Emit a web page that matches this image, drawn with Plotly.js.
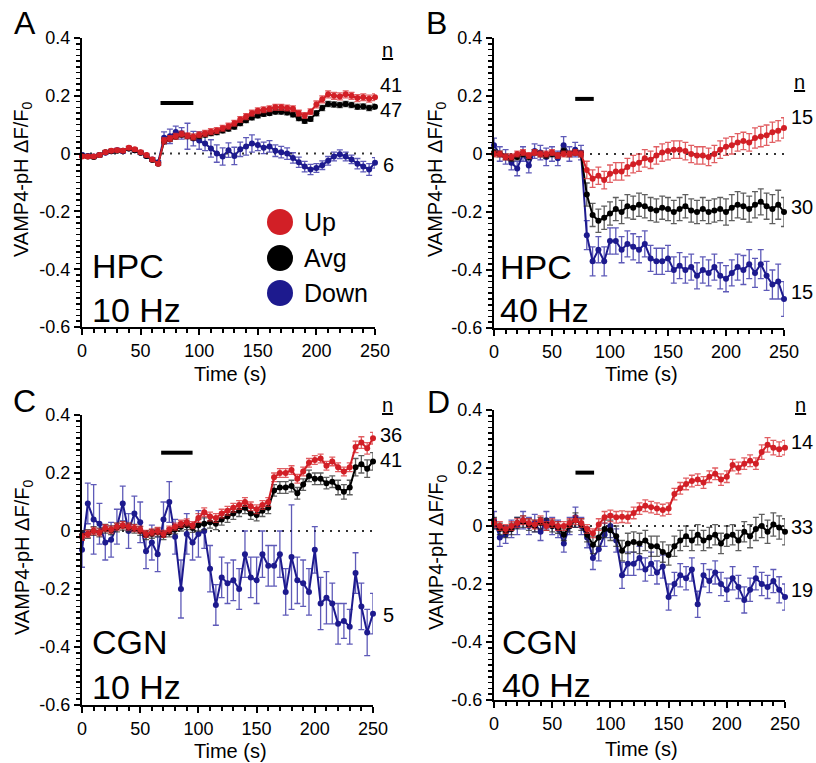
<!DOCTYPE html>
<html><head><meta charset="utf-8">
<script src="https://cdn.plot.ly/plotly-3.0.1.min.js"></script>
<style>html,body{margin:0;padding:0;background:#fff}#chart{width:816px;height:763px}</style>
</head><body><div id="chart"></div>
<script>
// ---------- DATA ----------
const time = [0,5,10,15,20,25,30,35,40,45,50,55,60,65,70,75,80,85,90,95,100,105,110,115,120,125,130,135,140,145,150,155,160,165,170,175,180,185,190,195,200,205,210,215,220,225,230,235,240,245,250];

// A: HPC 10 Hz
const hpc10Up = [-0.010,-0.010,-0.010,-0.005,0.005,0.010,0.012,0.010,0.020,0.015,
  0.005,-0.005,-0.020,-0.035,0.045,0.052,0.060,0.068,0.062,0.058,
  0.065,0.070,0.076,0.080,0.088,0.095,0.105,0.118,0.128,0.140,
  0.148,0.152,0.155,0.160,0.160,0.158,0.155,0.140,0.132,0.145,
  0.170,0.188,0.205,0.200,0.198,0.205,0.200,0.192,0.195,0.190,0.195];
const hpc10UpErr = [.006,.006,.006,.006,.006,.006,.006,.006,.006,.006,
  .006,.006,.006,.006,.010,.010,.010,.010,.010,.010,
  .010,.010,.010,.010,.010,.010,.010,.010,.010,.010,
  .010,.010,.010,.010,.010,.010,.010,.010,.010,.010,
  .012,.012,.012,.012,.012,.012,.012,.012,.012,.012,.012];
const hpc10Avg = [-0.008,-0.010,-0.012,-0.005,0.005,0.008,0.010,0.010,0.018,0.012,
  0.003,-0.008,-0.022,-0.035,0.042,0.050,0.058,0.065,0.060,0.055,
  0.060,0.065,0.070,0.074,0.080,0.086,0.093,0.105,0.115,0.125,
  0.132,0.137,0.140,0.145,0.145,0.142,0.135,0.122,0.113,0.120,
  0.140,0.158,0.172,0.170,0.168,0.172,0.168,0.162,0.163,0.158,0.162];
const hpc10AvgErr = [.005,.005,.005,.005,.005,.005,.005,.005,.005,.005,
  .005,.005,.005,.005,.008,.008,.008,.008,.008,.008,
  .008,.008,.008,.008,.008,.008,.008,.008,.008,.008,
  .008,.008,.008,.008,.008,.008,.008,.008,.008,.008,
  .009,.009,.009,.009,.009,.009,.009,.009,.009,.009,.009];
const hpc10Down = [-0.005,-0.008,-0.010,-0.005,0.003,0.008,0.012,0.008,0.018,0.012,
  0.003,-0.008,-0.020,-0.030,0.055,0.060,0.075,0.070,0.060,0.052,
  0.045,0.035,0.018,0.000,-0.010,0.012,-0.008,0.015,0.025,0.035,
  0.030,0.020,0.025,0.010,0.005,0.000,-0.015,-0.030,-0.045,-0.055,
  -0.050,-0.040,-0.025,-0.010,-0.002,-0.010,-0.020,-0.035,-0.045,-0.055,-0.032];
const hpc10DownErr = [.006,.006,.006,.006,.006,.006,.006,.006,.006,.006,
  .006,.006,.006,.006,.020,.025,.020,.020,.045,.025,
  .030,.025,.030,.030,.030,.025,.030,.025,.030,.030,
  .020,.020,.020,.020,.020,.020,.018,.018,.018,.018,
  .015,.015,.015,.015,.015,.015,.015,.018,.018,.020,.018];

// B: HPC 40 Hz
const hpc40Up = [0.000,0.000,-0.010,-0.010,0.000,0.005,-0.005,0.005,0.000,0.000,
  0.005,-0.005,0.000,0.000,0.005,0.000,-0.055,-0.085,-0.075,-0.090,
  -0.068,-0.060,-0.060,-0.045,-0.035,-0.030,-0.015,-0.020,-0.005,0.005,
  0.010,0.015,0.015,0.010,0.000,-0.005,-0.005,-0.010,0.000,0.015,
  0.025,0.030,0.040,0.045,0.040,0.055,0.060,0.065,0.075,0.080,0.090];
const hpc40UpErr = [.010,.010,.010,.010,.010,.010,.010,.010,.010,.010,
  .010,.010,.010,.010,.010,.010,.030,.030,.030,.030,
  .030,.030,.030,.030,.030,.030,.030,.030,.030,.030,
  .030,.030,.030,.030,.030,.030,.030,.030,.030,.030,
  .030,.030,.030,.030,.030,.035,.035,.035,.035,.035,.035];
const hpc40Avg = [0.005,0.000,-0.010,-0.015,-0.010,0.000,-0.010,0.005,0.000,-0.005,
  0.000,-0.005,0.010,0.000,0.005,0.000,-0.140,-0.210,-0.230,-0.220,
  -0.205,-0.190,-0.200,-0.180,-0.185,-0.175,-0.180,-0.190,-0.195,-0.185,
  -0.190,-0.200,-0.190,-0.180,-0.195,-0.200,-0.190,-0.200,-0.195,-0.190,
  -0.200,-0.185,-0.175,-0.180,-0.190,-0.175,-0.165,-0.180,-0.190,-0.175,-0.200];
const hpc40AvgErr = [.010,.010,.010,.010,.010,.010,.010,.010,.010,.010,
  .010,.010,.010,.010,.010,.010,.040,.040,.040,.040,
  .040,.040,.040,.040,.040,.040,.040,.040,.040,.040,
  .040,.040,.040,.040,.040,.040,.040,.040,.040,.040,
  .045,.045,.045,.045,.045,.045,.045,.045,.050,.050,.050];
const hpc40Down = [0.030,0.000,-0.010,-0.030,-0.050,0.000,-0.040,0.010,0.005,-0.010,
  0.000,-0.015,0.030,0.000,0.015,0.005,-0.280,-0.370,-0.330,-0.370,
  -0.300,-0.300,-0.330,-0.310,-0.320,-0.330,-0.310,-0.360,-0.370,-0.370,
  -0.360,-0.400,-0.385,-0.400,-0.390,-0.420,-0.400,-0.410,-0.390,-0.420,
  -0.430,-0.410,-0.390,-0.400,-0.380,-0.410,-0.380,-0.420,-0.450,-0.440,-0.500];
const hpc40DownErr = [.025,.025,.025,.025,.025,.025,.025,.025,.025,.030,
  .025,.025,.030,.025,.025,.025,.050,.050,.045,.050,
  .045,.045,.045,.045,.045,.045,.045,.045,.045,.045,
  .045,.045,.045,.045,.045,.045,.045,.045,.045,.045,
  .045,.045,.045,.050,.050,.050,.050,.050,.050,.060,.060];

// C: CGN 10 Hz
const cgn10Up = [-0.020,-0.010,0.000,-0.005,0.010,0.005,0.015,0.020,0.015,0.010,
  0.005,-0.010,-0.005,0.000,-0.010,0.005,0.015,0.025,0.030,0.020,
  0.045,0.065,0.050,0.045,0.060,0.070,0.080,0.090,0.100,0.085,
  0.075,0.090,0.100,0.185,0.200,0.200,0.210,0.180,0.205,0.235,
  0.245,0.250,0.225,0.240,0.220,0.205,0.220,0.290,0.305,0.285,0.320];
const cgn10UpErr = [.012,.012,.012,.012,.012,.012,.012,.012,.012,.012,
  .012,.012,.012,.012,.012,.012,.012,.012,.012,.012,
  .015,.015,.015,.015,.015,.015,.015,.015,.015,.015,
  .015,.015,.015,.015,.015,.015,.015,.015,.015,.015,
  .015,.015,.015,.015,.015,.015,.015,.020,.020,.020,.020];
const cgn10Avg = [-0.015,-0.010,0.000,-0.005,0.008,0.003,0.012,0.018,0.012,0.008,
  0.000,-0.015,-0.010,-0.005,-0.015,-0.005,0.005,0.015,0.020,0.010,
  0.020,0.025,0.030,0.025,0.040,0.050,0.060,0.070,0.080,0.060,
  0.055,0.070,0.080,0.140,0.150,0.150,0.155,0.130,0.160,0.190,
  0.180,0.180,0.165,0.170,0.150,0.135,0.150,0.220,0.230,0.215,0.240];
const cgn10AvgErr = [.015,.015,.015,.015,.015,.015,.015,.015,.015,.015,
  .015,.015,.015,.015,.015,.015,.015,.015,.015,.015,
  .020,.020,.020,.020,.020,.020,.020,.020,.020,.020,
  .020,.020,.020,.020,.020,.020,.020,.020,.020,.020,
  .020,.020,.020,.020,.025,.025,.025,.030,.030,.030,.030];
const cgn10Down = [-0.065,0.095,0.040,0.025,-0.040,-0.030,0.015,0.095,0.000,0.060,
  0.030,-0.070,-0.040,-0.080,0.040,0.100,-0.020,-0.200,-0.010,-0.040,
  -0.010,0.000,-0.130,-0.255,-0.160,-0.180,-0.170,-0.200,-0.080,-0.160,
  -0.170,-0.080,-0.120,-0.120,-0.080,-0.210,-0.090,-0.170,-0.180,-0.210,
  -0.065,-0.250,-0.230,-0.250,-0.320,-0.310,-0.330,-0.145,-0.260,-0.350,-0.285];
const cgn10DownErr = [.060,.070,.120,.070,.060,.060,.060,.060,.060,.060,
  .070,.060,.060,.060,.060,.070,.060,.100,.070,.060,
  .080,.060,.080,.070,.070,.070,.070,.070,.080,.070,
  .080,.080,.070,.070,.080,.080,.180,.080,.080,.080,
  .080,.090,.090,.070,.070,.060,.060,.070,.080,.080,.070];

// D: CGN 40 Hz
const cgn40Up = [0.010,0.000,-0.010,0.000,0.010,0.020,0.010,0.005,0.020,0.000,
  0.010,0.000,0.000,0.010,0.020,0.010,-0.010,-0.025,0.005,0.030,
  0.035,0.030,0.032,0.030,0.045,0.060,0.070,0.065,0.060,0.055,
  0.060,0.110,0.130,0.145,0.155,0.160,0.150,0.170,0.180,0.160,
  0.170,0.210,0.200,0.215,0.225,0.215,0.255,0.280,0.270,0.265,0.270];
const cgn40UpErr = [.015,.015,.015,.015,.015,.015,.015,.015,.015,.015,
  .015,.015,.015,.015,.015,.015,.015,.015,.020,.020,
  .020,.020,.020,.020,.020,.020,.020,.020,.020,.020,
  .020,.020,.020,.020,.020,.020,.020,.020,.020,.020,
  .020,.020,.020,.020,.020,.020,.025,.025,.025,.025,.025];
const cgn40Avg = [0.010,-0.010,-0.020,-0.010,0.010,0.015,0.005,0.000,0.010,0.005,
  0.000,-0.005,-0.030,0.000,0.020,0.005,-0.030,-0.065,-0.040,-0.010,
  -0.015,-0.035,-0.085,-0.060,-0.055,-0.060,-0.050,-0.070,-0.070,-0.090,
  -0.100,-0.070,-0.050,-0.035,-0.050,-0.030,-0.050,-0.040,-0.030,-0.060,
  -0.035,-0.030,-0.050,-0.020,-0.035,-0.010,0.000,-0.020,0.005,-0.005,-0.020];
const cgn40AvgErr = [.020,.020,.020,.020,.020,.020,.020,.020,.020,.020,
  .020,.020,.020,.020,.025,.020,.025,.030,.030,.030,
  .035,.035,.035,.035,.035,.035,.035,.035,.035,.035,
  .035,.035,.035,.035,.035,.035,.035,.035,.035,.035,
  .035,.035,.035,.035,.040,.040,.040,.040,.040,.040,.045];
const cgn40Down = [0.020,-0.040,-0.030,-0.010,0.000,0.020,0.000,0.010,-0.020,0.020,
  0.000,-0.010,-0.060,0.000,0.030,0.000,-0.040,-0.110,-0.080,-0.030,
  0.000,-0.050,-0.170,-0.130,-0.130,-0.110,-0.150,-0.130,-0.160,-0.140,
  -0.245,-0.200,-0.170,-0.180,-0.150,-0.270,-0.170,-0.190,-0.160,-0.200,
  -0.220,-0.180,-0.210,-0.255,-0.220,-0.180,-0.200,-0.210,-0.190,-0.220,-0.245];
const cgn40DownErr = [.030,.030,.030,.030,.030,.030,.030,.030,.030,.030,
  .030,.030,.030,.030,.035,.030,.035,.040,.040,.040,
  .040,.040,.045,.040,.040,.040,.040,.040,.040,.040,
  .045,.040,.040,.040,.040,.045,.040,.040,.040,.040,
  .040,.040,.040,.045,.040,.040,.040,.040,.040,.045,.045];

// stimulus bars [start, end, level] and n values
const stimStart = [67, 70, 68, 70];
const stimEnd   = [95, 86, 95, 86];
const stimLevel = [0.175, 0.19, 0.27, 0.184];
const nUp   = ['41','15','36','14'];
const nAvg  = ['47','30','41','33'];
const nDown = ['6','15','5','19'];
const panelLetters = ['A','B','C','D'];
const cellTypes = ['HPC','HPC','CGN','CGN'];
const freqs = ['10 Hz','40 Hz','10 Hz','40 Hz'];
const legendNames = ['Up','Avg','Down'];
const xTickVals = [0,50,100,150,200,250];
const xTickText = ['0','50','100','150','200','250'];
const yTickVals = [-0.6,-0.4,-0.2,0,0.2,0.4];
const yTickText = ['-0.6','-0.4','-0.2','0','0.2','0.4'];

// ---------- STYLE / LAYOUT ----------
const W = 816, H = 763;
const FONT = 'Liberation Sans, Arial, Helvetica, sans-serif';
const px = x => x / W, py = y => 1 - y / H;
const RED = '#d21f26', BLACK = '#000000', BLUE = '#1d1a8e';
const RED_E = 'rgba(215,40,45,0.75)', BLACK_E = 'rgba(40,40,40,0.75)', BLUE_E = 'rgba(40,35,160,0.75)';

const panels = [
  {xa:'x',  ya:'y',  box:[82,375,38,327],  up:hpc10Up, upE:hpc10UpErr, avg:hpc10Avg, avgE:hpc10AvgErr, dn:hpc10Down, dnE:hpc10DownErr,
   lab:{letter:[25,23], cell:[90,266], freq:[90,310], ytitle:[23,180], xtitle:[230,374], n:[387,50], nU:[378,85], nA:[378,110], nD:[381,165]}},
  {xa:'x2', ya:'y2', box:[494,784,38,328], up:hpc40Up, upE:hpc40UpErr, avg:hpc40Avg, avgE:hpc40AvgErr, dn:hpc40Down, dnE:hpc40DownErr,
   lab:{letter:[436,23], cell:[498,267], freq:[498,310], ytitle:[437,180], xtitle:[641,374], n:[799,82], nU:[789,117], nA:[789,207], nD:[789,292]}},
  {xa:'x3', ya:'y3', box:[82,373,415,705], up:cgn10Up, upE:cgn10UpErr, avg:cgn10Avg, avgE:cgn10AvgErr, dn:cgn10Down, dnE:cgn10DownErr,
   lab:{letter:[24,401], cell:[90,642], freq:[90,687], ytitle:[23,558], xtitle:[230,751], n:[387,405], nU:[378,435], nA:[378,460], nD:[381,615]}},
  {xa:'x4', ya:'y4', box:[494,785,410,700], up:cgn40Up, upE:cgn40UpErr, avg:cgn40Avg, avgE:cgn40AvgErr, dn:cgn40Down, dnE:cgn40DownErr,
   lab:{letter:[438,402], cell:[500,642], freq:[500,685], ytitle:[437,553], xtitle:[641,749], n:[800,405], nU:[789,442], nA:[789,527], nD:[789,590]}}
];

function series(x, y, err, color, ecolor, xa, ya) {
  return {type:'scatter', mode:'lines+markers', x, y, xaxis:xa, yaxis:ya,
    line:{color, width:2}, marker:{color, size:6},
    error_y:{type:'data', array:err, visible:true, color:ecolor, thickness:1.3, width:3},
    cliponaxis:false, showlegend:false, hoverinfo:'skip'};
}
function txt(text, x, y, size, xanchor, extra) {
  return Object.assign({text, x:px(x), y:py(y), xref:'paper', yref:'paper', showarrow:false,
    xanchor:xanchor || 'center', yanchor:'middle', font:{family:FONT, size, color:'#000'}}, extra || {});
}

const traces = [];
const layout = {width:W, height:H, margin:{l:0,r:0,t:0,b:0}, paper_bgcolor:'#fff', plot_bgcolor:'rgba(0,0,0,0)',
  font:{family:FONT, color:'#000'}, showlegend:false, shapes:[], annotations:[]};

panels.forEach((p, i) => {
  traces.push(series(time, p.dn, p.dnE, BLUE, BLUE_E, p.xa, p.ya));
  traces.push(series(time, p.avg, p.avgE, BLACK, BLACK_E, p.xa, p.ya));
  traces.push(series(time, p.up, p.upE, RED, RED_E, p.xa, p.ya));
  const sfx = i === 0 ? '' : String(i + 1);
  const [x0, x1, y0, y1] = p.box;
  layout['xaxis' + sfx] = {domain:[px(x0), px(x1)], anchor:'y' + sfx, range:[0,250], showline:true, linewidth:2, linecolor:'#000',
    ticks:'outside', ticklen:6, tickwidth:2, tickcolor:'#000', tickmode:'array', tickvals:xTickVals, ticktext:xTickText,
    minor:{tickmode:'linear', tick0:0, dtick:10, ticks:'outside', ticklen:4, tickwidth:2, tickcolor:'#000', showgrid:false},
    showgrid:false, zeroline:false, tickfont:{family:FONT, size:18, color:'#000'}, fixedrange:true};
  layout['yaxis' + sfx] = {domain:[py(y1), py(y0)], anchor:'x' + sfx, range:[-0.6,0.4], showline:true, linewidth:2, linecolor:'#000',
    ticks:'outside', ticklen:6, tickwidth:2, tickcolor:'#000', tickmode:'array', tickvals:yTickVals, ticktext:yTickText,
    minor:{tickmode:'linear', tick0:0, dtick:0.02, ticks:'outside', ticklen:4, tickwidth:1.5, tickcolor:'#000', showgrid:false},
    showgrid:false, zeroline:false, tickfont:{family:FONT, size:18, color:'#000'}, fixedrange:true};
  // zero dotted line
  layout.shapes.push({type:'line', xref:p.xa, yref:p.ya, x0:0, x1:250, y0:0, y1:0, layer:'below',
    line:{color:'#333', width:2, dash:'2px,6px'}});
  // stimulus bar
  layout.shapes.push({type:'line', xref:p.xa, yref:p.ya, x0:stimStart[i], x1:stimEnd[i], y0:stimLevel[i], y1:stimLevel[i],
    line:{color:'#000', width:4}});
  const L = p.lab;
  layout.annotations.push(txt(panelLetters[i], L.letter[0], L.letter[1], 32));
  layout.annotations.push(txt(cellTypes[i], L.cell[0], L.cell[1], 34, 'left'));
  layout.annotations.push(txt(freqs[i], L.freq[0], L.freq[1], 34, 'left'));
  layout.annotations.push(txt('VAMP4-pH \u0394F/F<sub>0</sub>', L.ytitle[0], L.ytitle[1], 20, 'center', {textangle:-90}));
  layout.annotations.push(txt('Time (s)', L.xtitle[0], L.xtitle[1], 20));
  layout.annotations.push(txt('<u>n</u>', L.n[0], L.n[1], 20));
  layout.annotations.push(txt(nUp[i], L.nU[0], L.nU[1], 20, 'left'));
  layout.annotations.push(txt(nAvg[i], L.nA[0], L.nA[1], 20, 'left'));
  layout.annotations.push(txt(nDown[i], L.nD[0], L.nD[1], 20, 'left'));
});

// legend in panel A
const legColors = [RED, BLACK, BLUE];
const legY = [222, 258, 293];
legendNames.forEach((name, k) => {
  layout.shapes.push({type:'circle', xref:'paper', yref:'paper', xsizemode:'pixel', ysizemode:'pixel',
    xanchor:px(280), yanchor:py(legY[k]), x0:-13, x1:13, y0:-13, y1:13,
    fillcolor:legColors[k], line:{color:legColors[k], width:0}});
  layout.annotations.push(txt(name, 302, legY[k], 25, 'left'));
});

Plotly.newPlot('chart', traces, layout, {staticPlot:true, displayModeBar:false});
</script></body></html>
